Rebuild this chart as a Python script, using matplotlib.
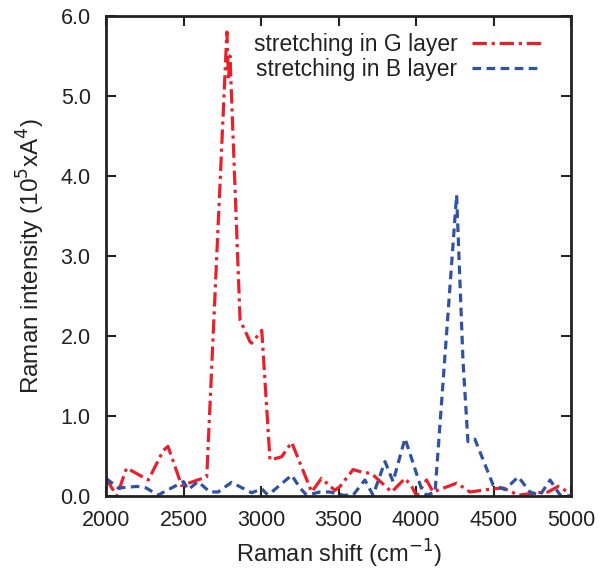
import matplotlib
matplotlib.use("Agg")
import matplotlib.pyplot as plt

plt.rcParams['font.family'] = ['Liberation Sans', 'DejaVu Sans']

g_x = [2000, 2070, 2133, 2273, 2370, 2400, 2488, 2650, 2780, 2790, 2800, 2865, 2929, 2940, 3005,
       3058, 3133, 3198, 3327, 3390, 3477, 3510, 3594, 3650, 3714, 3843, 3929, 3972, 4004,
       4068, 4110, 4262, 4327, 4348, 4497, 4563, 4660, 4780, 4852, 4917, 5000]
g_y = [0.22, 0.0, 0.35, 0.2, 0.57, 0.62, 0.13, 0.24, 5.8, 5.2, 5.5, 2.2, 1.93, 1.91, 2.07,
       0.45, 0.49, 0.67, 0.05, 0.22, 0.07, 0.12, 0.33, 0.3, 0.28, 0.05, 0.22, 0.12, 0.0,
       0.2, 0.05, 0.16, 0.08, 0.05, 0.09, 0.1, 0.01, 0.04, 0.05, 0.12, 0.03]

b_x = [2000, 2080, 2200, 2260, 2335, 2500, 2530, 2594, 2670, 2723, 2810, 2940, 3005, 3045,
       3198, 3252, 3295, 3380, 3445, 3530, 3594, 3670, 3723, 3800, 3852, 3929, 4037, 4068,
       4123, 4262, 4303, 4335, 4380, 4497, 4574, 4660, 4735, 4800, 4865, 4930, 5000]
b_y = [0.22, 0.1, 0.12, 0.1, 0.01, 0.18, 0.08, 0.18, 0.05, 0.05, 0.17, 0.04, 0.09, 0.01,
       0.26, 0.1, 0.01, 0.05, 0.05, 0.01, 0.01, 0.2, 0.01, 0.43, 0.18, 0.72, 0.08, 0.01,
       0.05, 3.76, 1.7, 0.68, 0.71, 0.14, 0.08, 0.24, 0.05, 0.01, 0.2, 0.01, 0.0]

x_ticks = [2000, 2500, 3000, 3500, 4000, 4500, 5000]
y_ticks = [0.0, 1.0, 2.0, 3.0, 4.0, 5.0, 6.0]

fig = plt.figure(figsize=(6.01, 5.71), dpi=100)
ax = fig.add_axes([106/601, 75/571, 465/601, 480/571])

red = '#e8202a'
blue = '#2f52a3'
ax.plot(g_x, g_y, color=red, lw=2.3, dashes=(4.5, 1.5, 1.0, 1.5), label='stretching in G layer')
ax.plot(b_x, b_y, color=blue, lw=2.3, dashes=(2.7, 1.7), label='stretching in B layer')

ax.set_xlim(2000, 5000)
ax.set_ylim(0, 6.0)
ax.set_xticks(x_ticks)
ax.set_yticks(y_ticks)
ax.set_xticklabels([str(v) for v in x_ticks])
ax.set_yticklabels(['%.1f' % v for v in y_ticks])
ax.tick_params(direction='in', top=True, right=True, length=7, width=1.5,
               labelsize=15.5, colors='#222222')
ax.tick_params(axis='x', pad=10)
ax.tick_params(axis='y', pad=11)
for s in ax.spines.values():
    s.set_linewidth(2)
    s.set_color('#222222')

ax.set_xlabel('Raman shift (cm$^{-1}$)', fontsize=17, color='#222222', labelpad=5)
ax.set_ylabel('Raman intensity (10$^5$xA$^4$)', fontsize=17.5, color='#222222', labelpad=10)

leg = ax.legend(loc='upper right', frameon=False, fontsize=16.5, markerfirst=False,
                handlelength=3.0, handletextpad=0.65, borderaxespad=0.6,
                labelspacing=0.1, bbox_to_anchor=(0.985, 1.012))
for t in leg.get_texts():
    t.set_ha('right')
    t.set_color('#222222')

fig.savefig('out.png', dpi=100)
